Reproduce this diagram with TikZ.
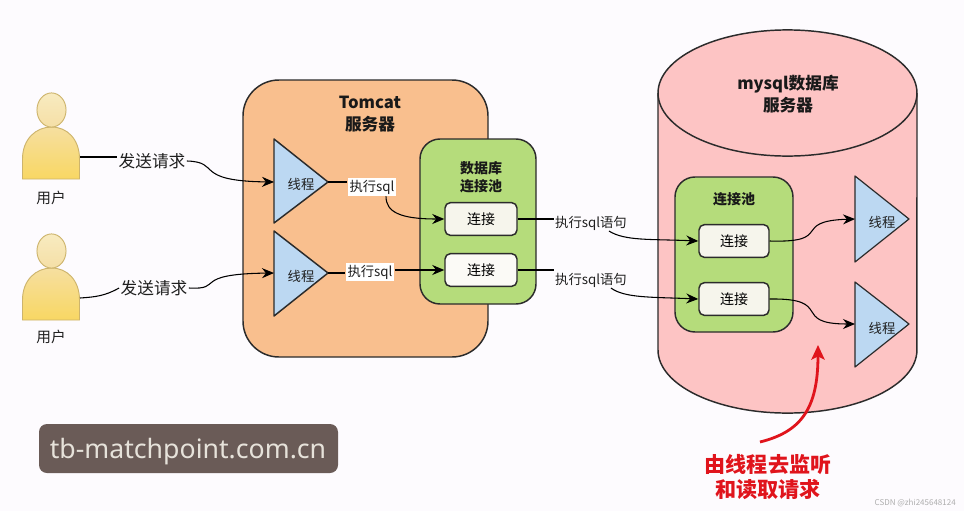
\documentclass[tikz,border=0pt]{standalone}
\usepackage{fontspec}
\setmainfont{Noto Sans CJK SC}
\newfontfamily\wmfont{Noto Sans}
\usetikzlibrary{arrows.meta}
\definecolor{bgc}{HTML}{FDFBFE}
\definecolor{ink}{HTML}{2B2B2B}
\definecolor{orangebox}{HTML}{F9BF8E}
\definecolor{greenbox}{HTML}{B5DC7B}
\definecolor{pinkbox}{HTML}{FDC4C4}
\definecolor{bluetri}{HTML}{BCD8F2}
\definecolor{connfill}{HTML}{F6F5EC}
\definecolor{connwhite}{HTML}{FBFAF6}
\definecolor{redtxt}{HTML}{E0141C}
\definecolor{wmbg}{HTML}{6A5B57}
\definecolor{wmtx}{HTML}{E6E2DA}
\definecolor{personedge}{HTML}{CDB46C}
\definecolor{headtop}{HTML}{F8EBC0}
\definecolor{headbot}{HTML}{F5DFA6}
\definecolor{bodytop}{HTML}{F6DFA0}
\definecolor{bodybot}{HTML}{F8D763}
\tikzset{
  x=0.75pt,y=-0.75pt,
  shapeline/.style={draw=ink,line width=1.1pt},
  tomcatbox/.style={shapeline,fill=orangebox,rounded corners=27pt},
  poolbox/.style={shapeline,fill=greenbox,rounded corners=15pt},
  tri/.style={shapeline,fill=bluetri,line join=round},
  connbox/.style={shapeline,fill=connfill,rounded corners=4pt,minimum width=54pt,minimum height=24.5pt,inner sep=0pt,font=\fontsize{10.5}{12}\selectfont},
  txt/.style={font=\fontsize{10}{12}\selectfont,inner sep=0pt,text=black!88},
  reqlabel/.style={font=\fontsize{12.5}{14}\selectfont,inner sep=1pt,fill=bgc,text=black!88},
  sqllabel/.style={font=\fontsize{10}{12}\selectfont,inner sep=1.5pt,fill=white,text=black!88},
  title/.style={font=\bfseries\fontsize{12.5}{16.5}\selectfont,align=center,inner sep=0pt,text=black!90},
  subtitle/.style={font=\bfseries\fontsize{10.5}{13.5}\selectfont,align=center,inner sep=0pt,text=black!90},
  wire/.style={draw=black,line width=0.8pt},
  wirearrow/.style={wire,-{Stealth[length=9pt,width=7.5pt]}},
  personline/.style={draw=personedge,line width=0.7pt},
  personhead/.style={personline,top color=headtop,bottom color=headbot},
  personbody/.style={personline,top color=bodytop,bottom color=bodybot},
  redarrow/.style={draw=redtxt,line width=2.1pt,-{Stealth[length=11pt,width=10pt,inset=2.5pt]}},
}
\newcommand{\personshape}[2]{%
  \draw[personbody] (#1-14.5,#2) -- (#1-14.5,#2-20) .. controls (#1-14.5,#2-40) and (#1-1,#2-52) .. (#1+14.5,#2-52) .. controls (#1+30,#2-52) and (#1+42.5,#2-40) .. (#1+42.5,#2-20) -- (#1+42.5,#2) -- cycle;
  \draw[personhead] (#1+14.5,#2-69) ellipse [x radius=10.9pt,y radius=12.8pt];
}
\begin{document}
\begin{tikzpicture}
\useasboundingbox (0,0) rectangle (964,511);
\fill[bgc] (0,0) rectangle (964,511);

% persons
\personshape{37}{179}
\personshape{37}{320}
\node[txt,font=\fontsize{11}{13}\selectfont] (user1) at (51,198) {用户};
\node[txt,font=\fontsize{11}{13}\selectfont] (user2) at (51,337) {用户};
\coordinate (p1) at (80,157);
\coordinate (p2) at (80,298);

% Tomcat
\draw[tomcatbox] (243,80) rectangle (488,357);
\node[title] (tomcat) at (370,114) {Tomcat\\服务器};

% DB pool
\draw[poolbox] (420,139) rectangle (536,304);
\node[subtitle] (dbpool) at (481,177) {数据库\\连接池};
\node[connbox] (c1) at (481,219) {连接};
\node[connbox,fill=connwhite] (c2) at (481,270) {连接};

% left threads
\draw[tri] (274,139) -- (328,182) -- (274,223) -- cycle;
\draw[tri] (274,231) -- (328,273) -- (274,316) -- cycle;
\coordinate (t1in) at (274,182);
\coordinate (t1out) at (328,182);
\coordinate (t2in) at (274,273);
\coordinate (t2out) at (328,273);
\node[txt] (t1) at (301,184) {线程};
\node[txt] (t2) at (301,276) {线程};

% MySQL cylinder
\draw[shapeline,fill=pinkbox] (658,93) -- (658,350) arc [start angle=180,end angle=360,x radius=97.1pt,y radius=47.3pt] -- (917,93);
\draw[shapeline,fill=pinkbox] (787.5,93) ellipse [x radius=97.1pt,y radius=47.3pt];
\node[title] (mysql) at (788,94) {mysql数据库\\服务器};

% inner pool
\draw[poolbox] (675,177) rectangle (793,332);
\node[subtitle,inner sep=1pt] (pool) at (734,199) {连接池};
\node[connbox,minimum width=52.5pt] (c3) at (734,241) {连接};
\node[connbox,minimum width=52.5pt] (c4) at (734,299) {连接};

% right threads
\draw[tri,line width=0.9pt] (855,176) -- (909,219) -- (855,262) -- cycle;
\draw[tri,line width=0.9pt] (855,282) -- (909,324) -- (855,367) -- cycle;
\coordinate (t3in) at (855,219);
\coordinate (t4in) at (855,324);
\node[txt] (t3) at (882,222) {线程};
\node[txt] (t4) at (882,328) {线程};

% request labels and wires
\node[reqlabel] (r1) at (152,161) {发送请求};
\node[reqlabel] (r2) at (154,288) {发送请求};
\draw[wire] (p1) -- (r1.west |- p1);
\draw[wirearrow] (r1.east) .. controls (222,162) and (192,181) .. (t1in);
\draw[wire] (p2) .. controls (95,297) and (105,296) .. (r2.west);
\draw[wirearrow] (r2.east) .. controls (225,290) and (190,274) .. (t2in);

% execute sql labels
\node[sqllabel] (s1) at (372,187) {执行sql};
\node[sqllabel] (s2) at (370,272) {执行sql};
\draw[wire] (t1out) -- (s1.west |- t1out);
\draw[wire] (t2out) -- (s2.west |- t2out);
\draw[wirearrow] (s1.south) ++(14,0) .. controls (386,212) and (400,219) .. (c1.west);
\draw[wirearrow] (s2.east |- c2.west) -- (c2.west);

% sql statement labels
\node[reqlabel,font=\fontsize{10}{12}\selectfont,inner sep=0.5pt] (q1) at (591,223) {执行sql语句};
\node[reqlabel,font=\fontsize{10}{12}\selectfont,inner sep=0.5pt] (q2) at (591,280) {执行sql语句};
\draw[wire] (c1.east) -- (q1.west |- c1.east);
\draw[wire] (c2.east) -- (q2.west |- c2.east);
\draw[wirearrow] (q1.south) ++(18,0) .. controls (625,241) and (650,239) .. (c3.west);
\draw[wirearrow] (q2.south) ++(20,0) .. controls (625,298) and (650,297) .. (c4.west);

% inner wires
\draw[wirearrow] (c3.east) .. controls (835,243) and (790,221) .. (t3in);
\draw[wirearrow] (c4.east) .. controls (835,298) and (790,324) .. (t4in);

% red note
\node[title,font=\bfseries\fontsize{15.8}{19}\selectfont,text=redtxt] (note) at (768,477) {由线程去监听\\和读取请求};
\coordinate (noteout) at (760,442);
\coordinate (notein) at (818,345);
\draw[redarrow] (noteout) .. controls (800,432) and (818,410) .. (notein);

% watermark
\node[fill=wmbg,rounded corners=6pt,minimum width=224.25pt,minimum height=36.75pt,inner sep=0pt] (wm) at (188.5,448.5) {};
\node[inner sep=0pt,text=wmtx,font=\wmfont\fontsize{20}{22}\selectfont] (wmtext) at (188,452) {tb-matchpoint.com.cn};
\node[inner sep=0pt,text=black!32,font=\fontsize{6}{7}\selectfont,anchor=east] (csdn) at (956,503) {CSDN @zhi245648124};
\end{tikzpicture}
\end{document}
